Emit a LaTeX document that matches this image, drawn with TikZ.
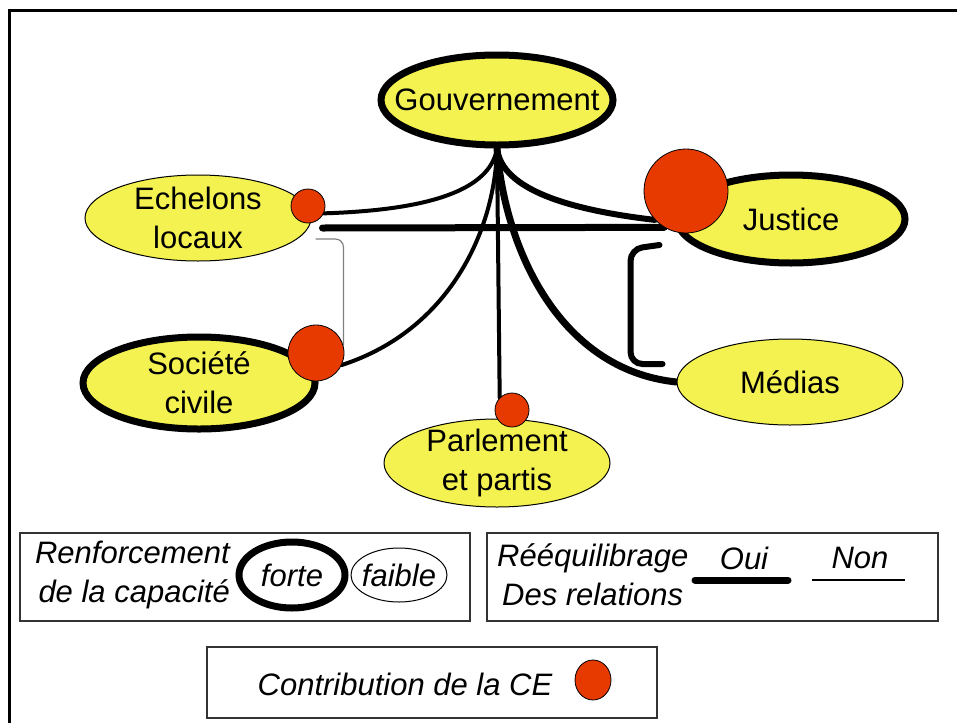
\documentclass[tikz,border=0pt]{standalone}
\usepackage{fontspec}
\setmainfont{Liberation Sans}
\usetikzlibrary{shapes.geometric,backgrounds}
\definecolor{ceRed}{RGB}{230,58,0}
\definecolor{acteurYellow}{RGB}{244,242,80}

\begin{document}
\begin{tikzpicture}[x=1pt,y=-1pt,
	every node/.style={font=\fontsize{31}{39}\selectfont, align=center, inner sep=0pt},
	acteur/.style={ellipse, draw, fill=acteurYellow, inner sep=-6pt, minimum width=226pt, minimum height=86pt, line width=1pt},
	fort/.style={line width=7pt},
	cedot/.style={circle, draw, line width=0.8pt, fill=ceRed},
	lien/.style={line width=4pt, line cap=round},
	lienfort/.style={line width=7pt, line cap=round},
	legende/.style={font=\fontsize{31}{39}\selectfont\itshape},
	cadre/.style={draw=black!80, line width=1.2pt}]
	
	\useasboundingbox (0,0) rectangle (957,723);
	\draw[line width=3pt] (957,10) -- (9,10) -- (9,723);
	
	\node[acteur, fort, inner xsep=-22pt, minimum width=232pt, minimum height=90pt] (gov) at (497,100) {Gouvernement};
	\node[acteur] (ech) at (198,218) {Echelons\\locaux};
	\node[acteur, fort, minimum width=232pt, minimum height=92pt] (soc) at (199,383) {Société\\civile};
	\node[acteur, fort, minimum width=228pt, minimum height=88pt] (jus) at (791,219) {Justice};
	\node[acteur] (med) at (790,382) {Médias};
	\node[acteur, minimum height=88pt] (par) at (497,463) {Parlement\\et partis};
	
	\foreach \nom/\pos/\taille in {dotE/{(308,206)}/34, dotS/{(316,353)}/56, dotJ/{(686,191)}/84, dotP/{(512,410)}/34}
		\node[cedot, minimum size=\taille pt] (\nom) at \pos {};
	
	\begin{scope}[on background layer]
	\draw[lien] (gov.south) .. controls (490,190) and (430,210) .. (dotE.-25);
	\draw[lien, line width=6pt] (gov.south) .. controls (502,190) and (570,210) .. (dotJ.-137);
	\draw[lienfort] ([shift={(11,10)}]ech.east) -- (dotJ.-121);
	\draw[lien] (gov.south) .. controls (495,230) and (450,330) .. (dotS.-25);
	\draw[lien] (gov.south) -- (dotP.135);
	\draw[lienfort] (gov.south) .. controls (505,250) and (560,370) .. (med.west);
	\draw[lien, line width=6pt, rounded corners=12pt] ([shift={(-14,26)}]jus.west) -- ++(-29,4) |- ([shift={(-14,-18)}]med.west);
	\draw[gray, line width=1.2pt, rounded corners=8pt] ([shift={(4,21)}]ech.east) -| (dotS.15);
	\end{scope}
	
	\draw[cadre] (20,533) rectangle (470,621);
	\node[legende, anchor=east, align=right] (renf) at (230,575) {Renforcement\\de la capacité};
	\node[legende, ellipse, draw, fort, minimum width=106pt, minimum height=66pt] (forte) at (292,575) {forte};
	\node[legende, ellipse, draw, line width=1pt, inner xsep=-4pt, minimum width=96pt, minimum height=54pt] (faible) at (399,575) {faible};
	
	\draw[cadre] (487,533) rectangle (938,621);
	\node[legende, anchor=west, align=left] (reeq) at (497,575) {Rééquilibrage\\\hspace*{5pt}Des relations};
	\node[legende] (oui) at (744,558) {Oui};
	\node[legende] (non) at (860,558) {Non};
	\draw[lienfort] (oui.center) ++(-49,22) -- ++(93,0);
	\draw[line width=1.2pt] (non.center) ++(-48,22) -- ++(93,0);
	
	\draw[cadre] (207,647) rectangle (657,718);
	\node[legende] (contrib) at (405,684) {Contribution de la CE};
	\node[cedot, ellipse, minimum width=36pt, minimum height=40pt] (dotL) at (593,680) {};
	
\end{tikzpicture}
\end{document}
